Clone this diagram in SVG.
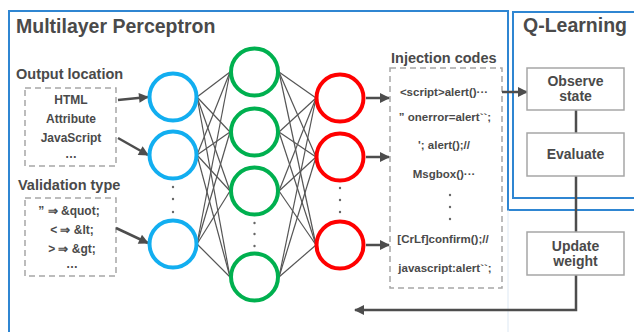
<svg xmlns="http://www.w3.org/2000/svg" width="634" height="332" viewBox="0 0 634 332">
<style>
text{font-family:"Liberation Sans",Arial,sans-serif;font-weight:bold;fill:#4a4a4a;}
.title{font-size:19.5px;}
.label{font-size:14.5px;}
.item{font-size:12px;text-anchor:middle;}
.code{font-size:11.5px;text-anchor:middle;}
.btxt{font-size:14px;text-anchor:middle;}
.frame{fill:none;stroke:#2f86d2;stroke-width:2;}
.dash{fill:none;stroke:#a6a6a6;stroke-width:1.5;stroke-dasharray:6,4;}
.box{fill:#fff;stroke:#a6a6a6;stroke-width:1.5;}
.nb{fill:#fff;stroke:#12aef0;stroke-width:4;}
.ng{fill:#fff;stroke:#00b04f;stroke-width:4;}
.nr{fill:#fff;stroke:#ff0000;stroke-width:4;}
.net line{stroke:#555;stroke-width:1.2;}
.arr{stroke:#4d4d4d;stroke-width:2.5;fill:none;}
.dot{fill:#666;}
</style>
<defs>
<marker id="ah" viewBox="0 0 10 10" refX="9" refY="5" markerWidth="4.6" markerHeight="4" orient="auto" markerUnits="strokeWidth">
<path d="M0,0 L10,5 L0,10 z" fill="#4d4d4d"/>
</marker>
</defs>
<rect width="634" height="332" fill="#fff"/>
<g id="frames">
<path class="frame" d="M9,332 V11 H508 V210 H634"/>
<line x1="508" y1="210" x2="508" y2="332" stroke="#dde8f3" stroke-width="1"/>
<path class="frame" d="M634,198 H513 V12 H634"/>
<text class="title" x="16" y="33">Multilayer Perceptron</text>
<text class="title" x="523" y="32">Q-Learning</text>
</g>
<g id="output-location">
<text class="label" x="16" y="79">Output location</text>
<rect class="dash" x="25" y="88" width="91" height="78"/>
<text class="item" x="71" y="104">HTML</text>
<text class="item" x="71" y="123">Attribute</text>
<text class="item" x="71" y="142">JavaScript</text>
<text class="item" x="71" y="158">…</text>
</g>
<g id="validation-type">
<text class="label" x="18" y="190">Validation type</text>
<rect class="dash" x="25" y="198" width="91" height="78"/>
<text class="item" x="69" y="215">” ⇒ &amp;quot;</text>
<text class="item" x="72" y="234">&lt; ⇒ &amp;lt;</text>
<text class="item" x="72" y="253">&gt; ⇒ &amp;gt;</text>
<text class="item" x="72" y="268">…</text>
</g>
<g id="injection-codes">
<text class="label" x="391" y="63">Injection codes</text>
<rect class="dash" x="390" y="68" width="112" height="220"/>
<text class="code" x="444" y="96">&lt;script&gt;alert()···</text>
<text class="code" x="445" y="121">” onerror=alert``;</text>
<text class="code" x="444" y="149">'; alert();//</text>
<text class="code" x="444" y="178">Msgbox()···</text>
<circle class="dot" cx="450" cy="195" r="1.2"/>
<circle class="dot" cx="450" cy="207" r="1.2"/>
<circle class="dot" cx="450" cy="219" r="1.2"/>
<text class="code" x="443" y="243">[CrLf]confirm();//</text>
<text class="code" x="445" y="272">javascript:alert``;</text>
</g>
<g id="connectors">
<g class="net">
<line x1="197" y1="97" x2="230" y2="72"/><line x1="197" y1="97" x2="230" y2="132"/><line x1="197" y1="97" x2="230" y2="191"/><line x1="197" y1="97" x2="230" y2="277"/>
<line x1="197" y1="155" x2="230" y2="72"/><line x1="197" y1="155" x2="230" y2="132"/><line x1="197" y1="155" x2="230" y2="191"/><line x1="197" y1="155" x2="230" y2="277"/>
<line x1="197" y1="244" x2="230" y2="72"/><line x1="197" y1="244" x2="230" y2="132"/><line x1="197" y1="244" x2="230" y2="191"/><line x1="197" y1="244" x2="230" y2="277"/>
<line x1="279" y1="72" x2="316" y2="98"/><line x1="279" y1="72" x2="316" y2="157"/><line x1="279" y1="72" x2="316" y2="245"/>
<line x1="279" y1="132" x2="316" y2="98"/><line x1="279" y1="132" x2="316" y2="157"/><line x1="279" y1="132" x2="316" y2="245"/>
<line x1="279" y1="191" x2="316" y2="98"/><line x1="279" y1="191" x2="316" y2="157"/><line x1="279" y1="191" x2="316" y2="245"/>
<line x1="279" y1="277" x2="316" y2="98"/><line x1="279" y1="277" x2="316" y2="157"/><line x1="279" y1="277" x2="316" y2="245"/>
</g>
<line class="arr" x1="118" y1="100" x2="148" y2="97" marker-end="url(#ah)"/>
<line class="arr" x1="118" y1="138" x2="148" y2="155" marker-end="url(#ah)"/>
<line class="arr" x1="116" y1="228" x2="148" y2="243" marker-end="url(#ah)"/>
<line class="arr" x1="366" y1="98" x2="389" y2="98" marker-end="url(#ah)"/>
<line class="arr" x1="366" y1="157" x2="389" y2="157" marker-end="url(#ah)"/>
<line class="arr" x1="366" y1="245" x2="389" y2="245" marker-end="url(#ah)"/>
<line class="arr" x1="502" y1="92" x2="527" y2="92" marker-end="url(#ah)"/>
<line class="arr" x1="576" y1="110" x2="576" y2="133"/>
<line class="arr" x1="576" y1="176" x2="576" y2="232"/>
<path class="arr" d="M576,275 V310 H355" marker-end="url(#ah)"/>
</g>
<g id="input-layer">
<circle class="nb" cx="173" cy="97" r="23.5"/>
<circle class="nb" cx="173" cy="155" r="23.5"/>
<circle class="dot" cx="173" cy="187" r="1.2"/>
<circle class="dot" cx="173" cy="199" r="1.2"/>
<circle class="dot" cx="173" cy="212" r="1.2"/>
<circle class="nb" cx="173" cy="244" r="23.5"/>
</g>
<g id="hidden-layer">
<circle class="ng" cx="254.5" cy="72" r="23.5"/>
<circle class="ng" cx="254.5" cy="132" r="23.5"/>
<circle class="ng" cx="254.5" cy="191" r="23.5"/>
<circle class="dot" cx="254.5" cy="223" r="1.2"/>
<circle class="dot" cx="254.5" cy="234" r="1.2"/>
<circle class="dot" cx="254.5" cy="246" r="1.2"/>
<circle class="ng" cx="254.5" cy="277" r="23.5"/>
</g>
<g id="output-layer">
<circle class="nr" cx="340" cy="98" r="23.5"/>
<circle class="nr" cx="340" cy="157" r="23.5"/>
<circle class="dot" cx="340" cy="188" r="1.2"/>
<circle class="dot" cx="340" cy="200" r="1.2"/>
<circle class="dot" cx="340" cy="212" r="1.2"/>
<circle class="nr" cx="340" cy="245" r="23.5"/>
</g>
<g id="observe-state">
<rect class="box" x="527" y="68" width="97" height="42"/>
<text class="btxt" x="575.5" y="86">Observe</text>
<text class="btxt" x="575.5" y="101">state</text>
</g>
<g id="evaluate">
<rect class="box" x="527" y="133" width="97" height="43"/>
<text class="btxt" x="575.5" y="159">Evaluate</text>
</g>
<g id="update-weight">
<rect class="box" x="527" y="232" width="97" height="43"/>
<text class="btxt" x="575.5" y="251">Update</text>
<text class="btxt" x="575.5" y="266">weight</text>
</g>
</svg>
